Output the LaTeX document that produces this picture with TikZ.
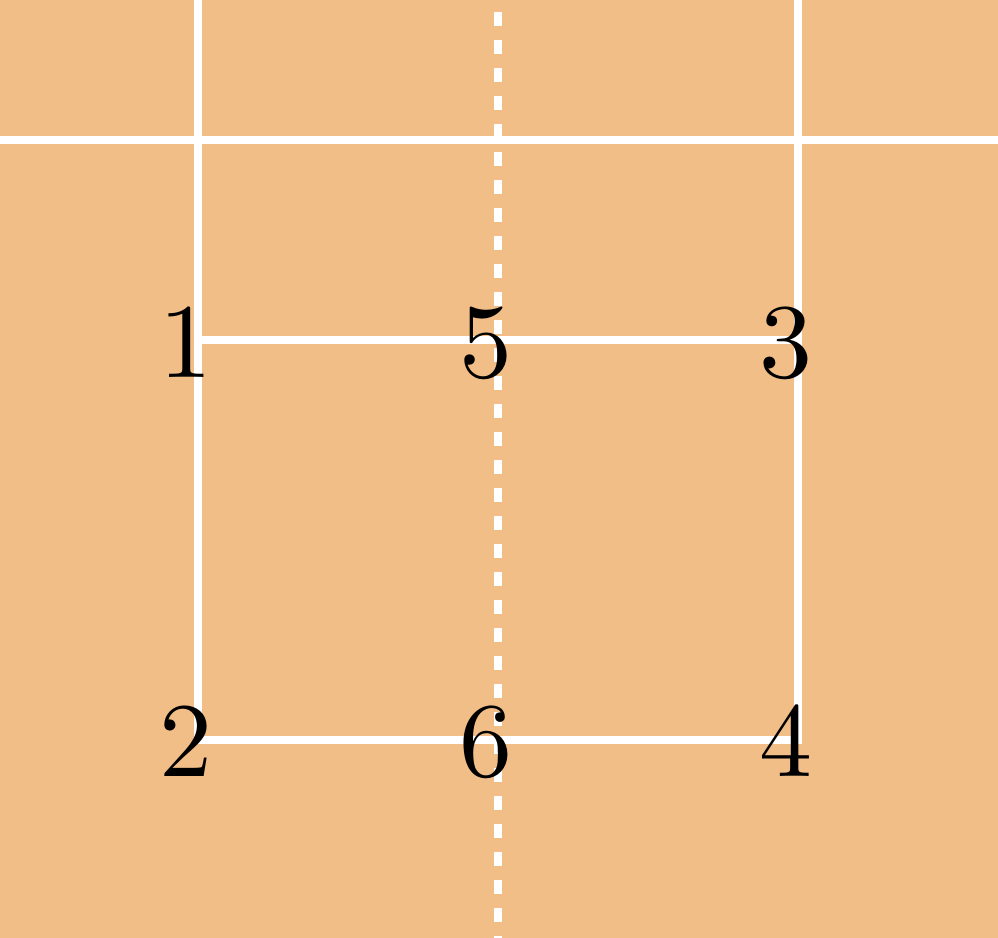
\documentclass[tikz,border=0pt]{standalone}
\usepackage{fontspec}
\newfontfamily\numfont{lmroman10-regular.otf}
\definecolor{board}{HTML}{F2BE88}
\tikzset{
  gridline/.style={draw=white, line width=3.6pt},
  axisline/.style={draw=white, line width=4pt, dash pattern=on 7pt off 7pt, dash phase=8pt},
  numlabel/.style={anchor=base, inner sep=0pt, text=black, font=\numfont\fontsize{53}{60}\selectfont}
}
\begin{document}
\begin{tikzpicture}[x=0.5pt, y=-0.5pt]
  \fill[board] (0,0) rectangle (998,938);
  \useasboundingbox (0,0) rectangle (998,938);
  % grid points
  \coordinate (p1) at (198,340);
  \coordinate (p5) at (498,340);
  \coordinate (p3) at (798,340);
  \coordinate (p2) at (198,740);
  \coordinate (p6) at (498,740);
  \coordinate (p4) at (798,740);
  \coordinate (lt) at (198,0);
  \coordinate (rt) at (798,0);
  \coordinate (hl) at (0,140);
  \coordinate (hr) at (998,140);
  \coordinate (dt) at (498,0);
  \coordinate (db) at (498,938);
  % lines
  \draw[gridline] (hl) -- (hr);
  \draw[gridline] (lt) -- (p2) -- (p4) -- (rt);
  \draw[gridline] (p1) -- (p3);
  \draw[axisline] (dt) -- (db);
  % labels
  \node[numlabel] (n1) at ([shift={(-12,37)}]p1) {1};
  \node[numlabel] (n5) at ([shift={(-12,37)}]p5) {5};
  \node[numlabel] (n3) at ([shift={(-12,37)}]p3) {3};
  \node[numlabel] (n2) at ([shift={(-12,36)}]p2) {2};
  \node[numlabel] (n6) at ([shift={(-12,36)}]p6) {6};
  \node[numlabel] (n4) at ([shift={(-12,36)}]p4) {4};
\end{tikzpicture}
\end{document}
